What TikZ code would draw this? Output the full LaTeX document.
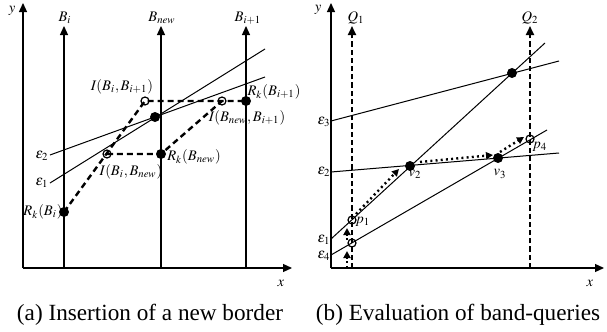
\documentclass[tikz,border=0pt]{standalone}
\usepackage{mathptmx}
\usepackage{fontspec}
\setmainfont{Liberation Serif}
\usetikzlibrary{arrows.meta}

\begin{document}
\begin{tikzpicture}[x=0.5pt, y=-0.5pt,
    tip/.style={-{Triangle[length=4.5pt,width=4pt]}},
    axisline/.style={line width=0.6pt, tip},
    border/.style={line width=0.6pt, tip},
    query/.style={line width=1.1pt, dash pattern=on 2.6pt off 1.5pt, tip},
    hull/.style={line width=1.2pt, dash pattern=on 3pt off 2pt},
    walk/.style={line width=1.2pt, dash pattern=on 1pt off 1.6pt, -{Triangle[length=3.5pt,width=3.5pt]}},
    eline/.style={line width=0.5pt},
    hit/.style={circle, fill, inner sep=0pt, minimum size=5pt},
    miss/.style={circle, draw, line width=0.6pt, inner sep=0pt, minimum size=4pt},
    lbl/.style={font=\fontsize{7.3}{8}\selectfont, inner sep=1pt},
    subcap/.style={font=\fontsize{11.6}{14}\selectfont, inner sep=0pt}]

    \useasboundingbox (0,0) rectangle (607,332);

    % ---------- (a) insertion of a new border ----------
    % axes
    \coordinate (oa) at (23,268);
    \coordinate (ya) at (23,3);
    \coordinate (xa) at (292,268);
    \draw[axisline] (oa) -- (ya);
    \draw[axisline] (oa) -- (xa);
    \node[lbl] (ya-l) at (12,11) {$y$};
    \node[lbl] (xa-l) at (281,283) {$x$};

    % the three borders
    \coordinate (bi-lo) at (64,268);     \coordinate (bi-hi) at (64,26);
    \coordinate (bnew-lo) at (161,268);  \coordinate (bnew-hi) at (161,26);
    \coordinate (bnext-lo) at (246,268); \coordinate (bnext-hi) at (246,26);
    \draw[border] (bi-lo) -- (bi-hi);
    \draw[border] (bnew-lo) -- (bnew-hi);
    \draw[border] (bnext-lo) -- (bnext-hi);
    \node[lbl] (bi-l) at (65,18) {$B_i$};
    \node[lbl] (bnew-l) at (162,18) {$B_{new}$};
    \node[lbl] (bnext-l) at (248,18) {$B_{i+1}$};

    % the two lines
    \coordinate (ea1) at (50,183); \coordinate (ea1e) at (265,49);
    \coordinate (ea2) at (50,155); \coordinate (ea2e) at (265,77);
    \draw[eline] (ea1) -- (ea1e);
    \draw[eline] (ea2) -- (ea2e);
    \node[lbl] (ea1-l) at (42,183) {$\epsilon_1$};
    \node[lbl] (ea2-l) at (42,156) {$\epsilon_2$};

    % points
    \node[hit] (rbi) at (64,212) {};
    \node[miss] (ibn) at (107,154) {};
    \node[hit] (rbn) at (161,154) {};
    \node[miss] (ibb) at (145,101) {};
    \node[miss] (inb) at (222,101) {};
    \node[hit] (rbb) at (246,101) {};
    \node[hit] (cross) at (155,117) {};

    % regions before and after the insertion
    \draw[hull] (rbi.center) -- (ibb.center) -- (rbb.center);
    \draw[hull] (ibn.center) -- (rbn.center) -- (inb.center);

    \node[lbl] (rbi-l) at (43,212) {$R_k(B_i)$};
    \node[lbl] (ibn-l) at (131,172) {$I(B_i,B_{new})$};
    \node[lbl] (rbn-l) at (194,157) {$R_k(B_{new})$};
    \node[lbl] (ibb-l) at (122,87) {$I(B_i,B_{i+1})$};
    \node[lbl] (inb-l) at (247,118) {$I(B_{new},B_{i+1})$};
    \node[lbl] (rbb-l) at (274,92) {$R_k(B_{i+1})$};

    \node[subcap] (cap-a) at (150,315) {(a) Insertion of a new border};

    % ---------- (b) evaluation of band-queries ----------
    % axes
    \coordinate (ob) at (331,268);
    \coordinate (yb) at (331,3);
    \coordinate (xb) at (604,268);
    \draw[axisline] (ob) -- (yb);
    \draw[axisline] (ob) -- (xb);
    \node[lbl] (yb-l) at (318,10) {$y$};
    \node[lbl] (xb-l) at (590,283) {$x$};

    % queries
    \coordinate (q1-lo) at (352,268); \coordinate (q1-hi) at (352,26);
    \coordinate (q2-lo) at (530,268); \coordinate (q2-hi) at (530,26);
    \draw[query] (q1-lo) -- (q1-hi);
    \draw[query] (q2-lo) -- (q2-hi);
    \node[lbl] (q1-l) at (356,18) {$Q_1$};
    \node[lbl] (q2-l) at (530,18) {$Q_2$};

    % lines
    \coordinate (eb1) at (331,239); \coordinate (eb1e) at (545,43);
    \coordinate (eb2) at (331,172); \coordinate (eb2e) at (559,153);
    \coordinate (eb3) at (331,121); \coordinate (eb3e) at (559,61);
    \coordinate (eb4) at (331,255); \coordinate (eb4e) at (547,130);
    \draw[eline] (eb1) -- (eb1e);
    \draw[eline] (eb2) -- (eb2e);
    \draw[eline] (eb3) -- (eb3e);
    \draw[eline] (eb4) -- (eb4e);
    \node[lbl] (eb1-l) at (324,240) {$\epsilon_1$};
    \node[lbl] (eb2-l) at (324,172) {$\epsilon_2$};
    \node[lbl] (eb3-l) at (324,122) {$\epsilon_3$};
    \node[lbl] (eb4-l) at (324,256) {$\epsilon_4$};

    % vertices and hits
    \node[hit] (v1) at (512,73) {};
    \node[hit] (v2) at (410,166) {};
    \node[hit] (v3) at (498,158) {};
    \node[miss] (p1) at (352,220) {};
    \node[miss] (s4) at (352,243) {};
    \node[miss] (p4) at (530,139) {};
    \node[lbl] (p1-l) at (363,222) {$p_1$};
    \node[lbl] (v2-l) at (415,174) {$v_2$};
    \node[lbl] (v3-l) at (500,174) {$v_3$};
    \node[lbl] (p4-l) at (540,147) {$p_4$};

    % walk along the arrangement
    \coordinate (w0) at (347,268); \coordinate (w1) at (347,251);
    \coordinate (w2) at (347,240); \coordinate (w3) at (347,228);
    \coordinate (w4) at (356,214); \coordinate (w5) at (399,169);
    \coordinate (w6) at (420,162); \coordinate (w7) at (493,155);
    \coordinate (w8) at (500,152); \coordinate (w9) at (524,137);
    \draw[walk] (w0) -- (w1);
    \draw[walk] (w2) -- (w3);
    \draw[walk] (w4) -- (w5);
    \draw[walk] (w6) -- (w7);
    \draw[walk] (w8) -- (w9);

    \node[subcap] (cap-b) at (458,315) {(b) Evaluation of band-queries};
\end{tikzpicture}
\end{document}
